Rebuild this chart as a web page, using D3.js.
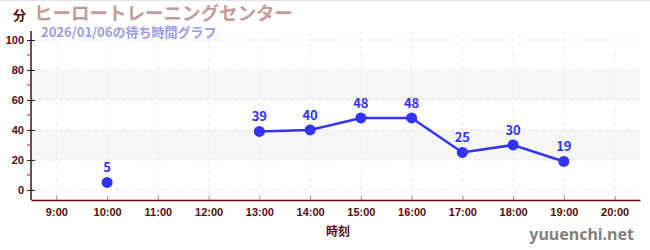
<!DOCTYPE html>
<head>
  <meta charset="utf-8">
  <style>
    body { margin: 0; background: #fff; }
    svg { font-family: "Noto Sans CJK JP", "Noto Sans", sans-serif; display: block; }
    .grid line { stroke: #ebebeb; stroke-dasharray: 4,3; }
    .tick text { fill: #5a0a0a; font-weight: bold; font-size: 11px; }
  </style>
</head>
<body>
  <svg></svg>
  <script src="https://d3js.org/d3.v7.min.js"></script>
  <script>
    // chart values
    const hours = [9, 10, 11, 12, 13, 14, 15, 16, 17, 18, 19, 20];
    const waits = [null, 5, null, null, 39, 40, 48, 48, 25, 30, 19, null];
    const yTicks = [0, 20, 40, 60, 80, 100];
    const yMinor = [10, 30, 50, 70, 90];
    const bands = [[20, 40], [60, 80]];

    const width = 650, height = 250;
    const svg = d3.select('svg').attr('width', width).attr('height', height);

    const x = d3.scaleLinear().domain([8.5, 20.5]).range([31, 640]);
    const y = d3.scaleLinear().domain([-6.7, 106]).range([200, 31]);

    svg.append('line').attr('x1', 0).attr('x2', width).attr('y1', 0.5).attr('y2', 0.5)
      .attr('stroke', '#e2e2f4');

    // shaded bands
    svg.append('g').selectAll('rect').data(bands).enter().append('rect')
      .attr('x', x(8.5)).attr('width', x(20.5) - x(8.5))
      .attr('y', d => y(d[1])).attr('height', d => y(d[0]) - y(d[1]))
      .attr('fill', '#f6f6f6');

    // grid
    const grid = svg.append('g').classed('grid', true);
    grid.selectAll('.h').data(yTicks).enter().append('line')
      .attr('x1', x(8.5)).attr('x2', x(20.5))
      .attr('y1', d => y(d)).attr('y2', d => y(d));
    grid.selectAll('.v').data(hours).enter().append('line')
      .attr('x1', d => x(d)).attr('x2', d => x(d))
      .attr('y1', y(106)).attr('y2', y(-6.7));

    // x axis
    const xAxis = svg.append('g').attr('transform', 'translate(0,' + y(-6.7) + ')')
      .call(d3.axisBottom(x).tickValues(hours).tickFormat(d => d + ':00').tickSize(0).tickPadding(8));
    xAxis.select('.domain').attr('stroke', '#5a0a0a').attr('stroke-width', 1.5);
    xAxis.selectAll('.tick').append('line').attr('y1', 0).attr('y2', -4).attr('stroke', '#888');

    // y axis
    svg.append('g').attr('transform', 'translate(' + (x(8.5) - 4) + ',0)')
      .selectAll('line').data(yMinor).enter().append('line')
      .attr('x1', 0).attr('x2', 3).attr('y1', d => y(d)).attr('y2', d => y(d))
      .attr('stroke', '#d01010');
    const yAxis = svg.append('g').attr('transform', 'translate(' + x(8.5) + ',0)')
      .call(d3.axisLeft(y).tickValues(yTicks).tickSize(4).tickPadding(3));
    yAxis.select('.domain').remove();
    yAxis.selectAll('.tick line').attr('x2', 4).attr('x1', -4).attr('stroke', '#222');
    svg.append('line').attr('x1', x(8.5)).attr('x2', x(8.5)).attr('y1', y(106)).attr('y2', y(-6.7))
      .attr('stroke', '#5a0a0a').attr('stroke-width', 1.5);

    // series
    const pts = hours.map((h, i) => ({ h: h, v: waits[i] }));
    const line = d3.line().defined(d => d.v !== null).x(d => x(d.h)).y(d => y(d.v));
    svg.append('path').datum(pts).attr('d', line)
      .attr('fill', 'none').attr('stroke', '#3333ff').attr('stroke-width', 2.5);
    const vals = pts.filter(d => d.v !== null);
    svg.append('g').selectAll('circle').data(vals).enter().append('circle')
      .attr('cx', d => x(d.h)).attr('cy', d => y(d.v)).attr('r', 5.5).attr('fill', '#3333ff');
    svg.append('g').selectAll('text').data(vals).enter().append('text')
      .attr('x', d => x(d.h)).attr('y', d => y(d.v) - 10)
      .attr('text-anchor', 'middle').attr('font-size', 13).attr('font-weight', 'bold')
      .attr('fill', '#3333ff').text(d => d.v);

    // titles
    svg.append('text').attr('x', 13).attr('y', 20).attr('font-size', 13).attr('font-weight', 'bold')
      .attr('fill', '#5a0a0a').text('分');
    svg.append('text').attr('x', 34).attr('y', 20).attr('font-size', 18.5).attr('font-weight', 'bold')
      .attr('fill', '#c49a9a').text('ヒーロートレーニングセンター');
    svg.append('text').attr('x', 41).attr('y', 37).attr('font-size', 13).attr('font-weight', 'bold')
      .attr('fill', '#9a9af2').text('2026/01/06の待ち時間グラフ');
    svg.append('text').attr('x', 338).attr('y', 236).attr('text-anchor', 'middle').attr('font-size', 12)
      .attr('font-weight', 'bold').attr('fill', '#5a0a0a').text('時刻');
    svg.append('text').attr('x', 634).attr('y', 240).attr('text-anchor', 'end').attr('font-size', 16)
      .attr('font-weight', 'bold').attr('font-family', 'Noto Sans, sans-serif').attr('fill', '#808080').text('yuuenchi.net');
  </script>
</body>
